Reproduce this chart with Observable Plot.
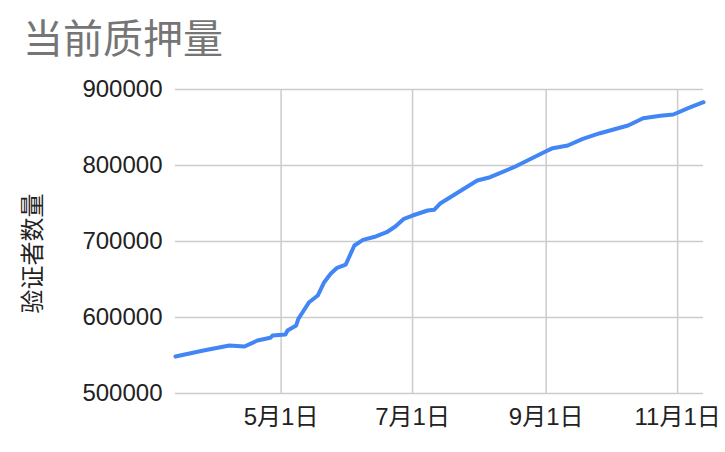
<!DOCTYPE html>
<html>
<head>
<meta charset="utf-8">
<script src="https://cdn.jsdelivr.net/npm/d3@7"></script>
<script src="https://cdn.jsdelivr.net/npm/@observablehq/plot@0.6"></script>
<style>
  html, body { margin: 0; padding: 0; background: #fff; }
  #title {
    height: 70px; box-sizing: border-box; padding: 19px 0 0 23px;
    font-family: "Liberation Sans", Arial, "Noto Sans CJK SC", sans-serif;
    font-size: 40px; line-height: 40px; color: #757575;
  }
</style>
</head>
<body>
<div id="title">当前质押量</div>
<div id="chart"></div>
<script>
const dates = [
  "2023-03-13","2023-03-26","2023-04-07","2023-04-14","2023-04-20","2023-04-26","2023-04-27",
  "2023-05-03","2023-05-04","2023-05-08","2023-05-09","2023-05-13","2023-05-14","2023-05-18",
  "2023-05-21","2023-05-24","2023-05-27","2023-05-31","2023-06-04","2023-06-08","2023-06-14",
  "2023-06-19","2023-06-23","2023-06-27","2023-07-01","2023-07-08","2023-07-11","2023-07-14",
  "2023-07-31","2023-08-06","2023-08-17","2023-08-31","2023-09-04","2023-09-11","2023-09-18",
  "2023-09-26","2023-10-09","2023-10-16","2023-10-24","2023-10-30","2023-11-07","2023-11-13"
];
const validators = [
  548700,556600,563200,561800,569700,573300,576300,
  577600,582900,589500,598300,615800,620100,628900,
  646400,657500,665400,669700,694700,702200,706600,
  712200,719700,729900,734200,740800,741700,750400,
  780300,784600,797800,817500,822800,826300,835100,
  842500,852600,862200,865400,867100,876700,883300
];
const xTicks = ["2023-05-01","2023-07-01","2023-09-01","2023-11-01"];
const yTicks = [500000,600000,700000,800000,900000];
const xDomain = ["2023-03-13","2023-11-13"];
const yLabel = "验证者数量";

const parse = s => new Date(s + "T00:00:00Z");
const data = dates.map((d, i) => ({date: parse(d), value: validators[i]}));
const xt = xTicks.map(parse);

const chart = Plot.plot({
  width: 725,
  height: 382,
  marginTop: 19,
  marginBottom: 59,
  marginLeft: 175,
  marginRight: 22,
  style: {
    fontFamily: "'Liberation Sans', Arial, 'Noto Sans CJK SC', sans-serif",
    fontSize: "24px",
    color: "#222",
    background: "#fff"
  },
  x: {
    type: "utc",
    domain: xDomain.map(parse),
    ticks: xt,
    tickSize: 0,
    tickPadding: 14,
    tickFormat: d => `${d.getUTCMonth() + 1}月${d.getUTCDate()}日`,
    label: null
  },
  y: {
    domain: [yTicks[0], yTicks[yTicks.length - 1]],
    ticks: yTicks,
    tickSize: 0,
    tickPadding: 13,
    tickFormat: d => String(d),
    label: null
  },
  marks: [
    Plot.ruleY(yTicks, {stroke: "#cccccc", strokeWidth: 1.5}),
    Plot.ruleX(xt, {stroke: "#cccccc", strokeWidth: 1.5}),
    Plot.line(data, {x: "date", y: "value", stroke: "#4285f4", strokeWidth: 4, strokeLinejoin: "round", strokeLinecap: "round"}),
    Plot.text([yLabel], {frameAnchor: "left", dx: -142, dy: 12, rotate: -90, fontSize: 24, fill: "#222", textAnchor: "middle", lineAnchor: "middle"})
  ]
});
document.getElementById("chart").appendChild(chart);
</script>
</body>
</html>
